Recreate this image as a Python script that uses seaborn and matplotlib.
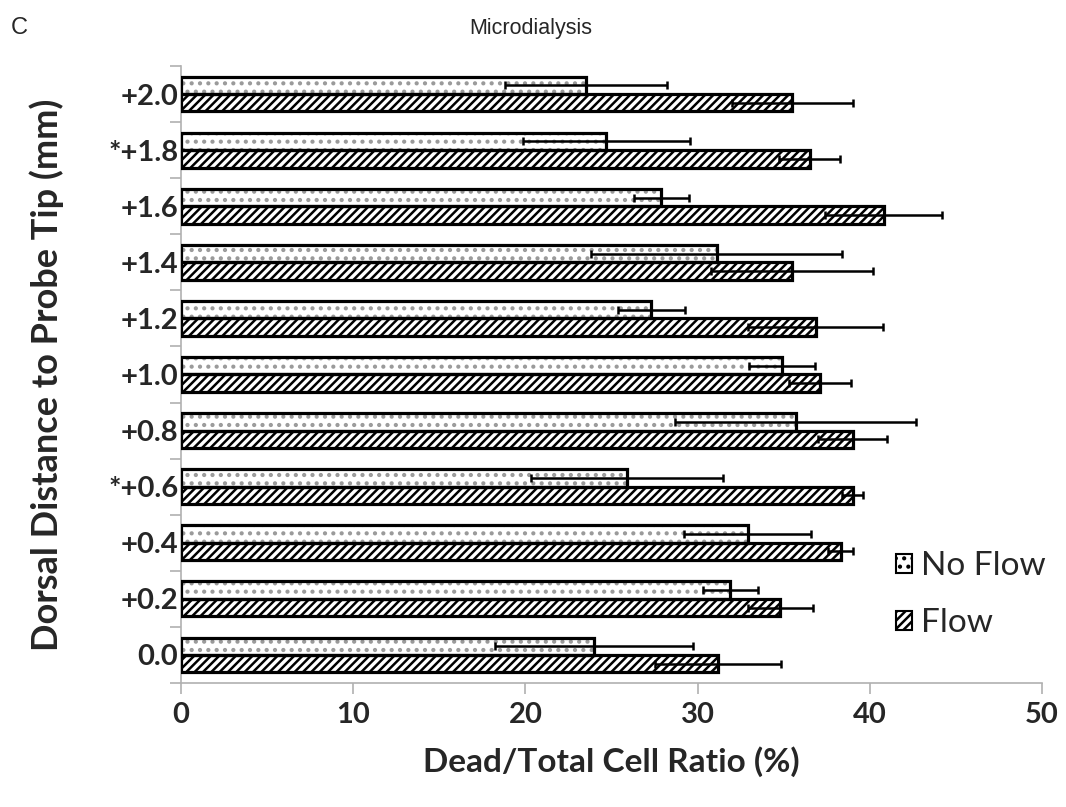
import matplotlib
matplotlib.use("Agg")
import matplotlib.pyplot as plt
from matplotlib.patches import Patch, Rectangle
import seaborn as sns
import pandas as pd

# Distances above the probe tip (top row first)
categories = ["+2.0", "+1.8", "+1.6", "+1.4", "+1.2", "+1.0",
              "+0.8", "+0.6", "+0.4", "+0.2", "0.0"]
tick_labels = ["+2.0", "*+1.8", "+1.6", "+1.4", "+1.2", "+1.0",
               "+0.8", "*+0.6", "+0.4", "+0.2", "0.0"]
groups = ["No Flow", "Flow"]
x_ticks = [0, 10, 20, 30, 40, 50]

# Dead/total cell ratio (%) and error
no_flow = [23.5, 24.7, 27.9, 31.1, 27.3, 34.9, 35.7, 25.9, 32.9, 31.9, 24.0]
no_flow_err = [4.7, 4.85, 1.6, 7.3, 1.95, 1.9, 7.0, 5.6, 3.7, 1.6, 5.75]
flow = [35.5, 36.5, 40.8, 35.5, 36.85, 37.1, 39.0, 39.0, 38.3, 34.8, 31.2]
flow_err = [3.5, 1.75, 3.4, 4.7, 3.9, 1.8, 2.0, 0.6, 0.75, 1.9, 3.65]

df = pd.DataFrame({
    "distance": categories * 2,
    "ratio": no_flow + flow,
    "group": [groups[0]] * len(categories) + [groups[1]] * len(categories),
})

sns.set_style("white")
plt.rcParams["font.family"] = ["Lato", "DejaVu Sans"]
plt.rcParams["hatch.linewidth"] = 1.8

fig = plt.figure(figsize=(10.66, 8.07), dpi=100)
ax = fig.add_axes([0.1698, 0.1537, 0.8077, 0.7645])

sns.barplot(data=df, y="distance", x="ratio", hue="group", order=categories,
            hue_order=groups, orient="h", errorbar=None, width=0.62,
            palette=["white", "white"], legend=False, ax=ax)

hatches = {"No Flow": "..", "Flow": "////"}
hatch_colors = {"No Flow": "#9a9a9a", "Flow": "black"}
errs = {"No Flow": no_flow_err, "Flow": flow_err}
vals = {"No Flow": no_flow, "Flow": flow}

for grp, container in zip(groups, ax.containers):
    centers = []
    for patch in container:
        patch.set_facecolor("white")
        patch.set_hatch(hatches[grp])
        patch.set_edgecolor(hatch_colors[grp])
        patch.set_linewidth(0)
        outline = Rectangle(patch.get_xy(), patch.get_width(), patch.get_height(),
                            fill=False, edgecolor="black", linewidth=2.3, zorder=3)
        ax.add_patch(outline)
        centers.append(patch.get_y() + patch.get_height() / 2)
    ax.errorbar(vals[grp], centers, xerr=errs[grp], fmt="none", ecolor="black",
                elinewidth=1.8, capsize=3, capthick=1.8, zorder=4)

# Axis limits and ticks
ax.set_xlim(0, 50)
ax.set_ylim(len(categories) - 0.5, -0.5)
ax.set_xticks(x_ticks)
ax.set_xticklabels([str(t) for t in x_ticks], fontsize=21, fontweight="bold")
ax.set_yticks([i - 0.5 for i in range(len(categories) + 1)])
ax.set_yticklabels([])
ax.set_yticks(range(len(categories)), minor=True)
ax.set_yticklabels(tick_labels, minor=True, fontsize=21, fontweight="bold")
ax.tick_params(axis="y", which="minor", length=0, pad=2)
ax.tick_params(axis="y", which="major", length=8, width=1.2, color="#b0b0b0",
               direction="out", left=True)
ax.tick_params(axis="x", length=8, width=1.2, color="#b0b0b0", direction="out",
               bottom=True, pad=6)

for side in ["top", "right"]:
    ax.spines[side].set_visible(False)
for side in ["left", "bottom"]:
    ax.spines[side].set_color("#b0b0b0")
    ax.spines[side].set_linewidth(1.2)

ax.set_xlabel("Dead/Total Cell Ratio (%)", fontsize=24, fontweight="bold", labelpad=13)
ax.set_ylabel("Dorsal Distance to Probe Tip (mm)", fontsize=26, fontweight="bold")
ax.yaxis.set_label_coords(-0.136, 0.5)

handles = [Patch(facecolor="white", edgecolor="black", hatch=hatches[g], linewidth=1.5)
           for g in groups]
fig.legend(handles, groups, loc="upper left", bbox_to_anchor=(0.812, 0.354),
           frameon=False, fontsize=24, handlelength=0.5, handleheight=0.5,
           handletextpad=0.25, labelspacing=0.8)

title_font = ["Liberation Sans", "DejaVu Sans"]
fig.text(0.010, 0.965, "C", fontsize=17, family=title_font, va="center")
fig.text(0.498, 0.965, "Microdialysis", fontsize=15.5, family=title_font,
         va="center", ha="center")

fig.savefig("out.png", dpi=100)
